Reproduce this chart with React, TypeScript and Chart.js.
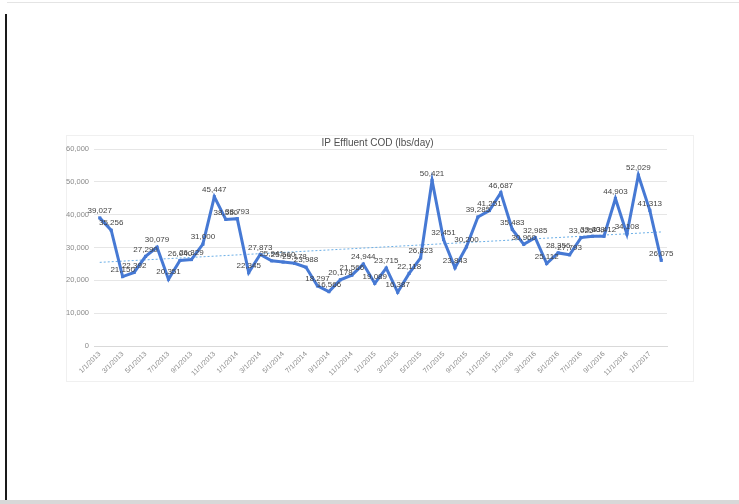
import React, { useEffect, useRef } from "react";
import { Chart, registerables } from "chart.js";

Chart.register(...registerables);

const categories = [
  "1/1/2013", "2/1/2013", "3/1/2013", "4/1/2013", "5/1/2013", "6/1/2013",
  "7/1/2013", "8/1/2013", "9/1/2013", "10/1/2013", "11/1/2013", "12/1/2013",
  "1/1/2014", "2/1/2014", "3/1/2014", "4/1/2014", "5/1/2014", "6/1/2014",
  "7/1/2014", "8/1/2014", "9/1/2014", "10/1/2014", "11/1/2014", "12/1/2014",
  "1/1/2015", "2/1/2015", "3/1/2015", "4/1/2015", "5/1/2015", "6/1/2015",
  "7/1/2015", "8/1/2015", "9/1/2015", "10/1/2015", "11/1/2015", "12/1/2015",
  "1/1/2016", "2/1/2016", "3/1/2016", "4/1/2016", "5/1/2016", "6/1/2016",
  "7/1/2016", "8/1/2016", "9/1/2016", "10/1/2016", "11/1/2016", "12/1/2016",
  "1/1/2017", "2/1/2017",
];

const codValues = [
  39027, 35256, 21150, 22392, 27290, 30079, 20351, 26040, 26329, 31000,
  45447, 38550, 38793, 22345, 27873, 25941, 25560, 25178, 23988, 18297,
  16566, 20178, 21566, 24944, 19089, 23715, 16387, 22118, 26823, 50421,
  32451, 23843, 30200, 39285, 41251, 46687, 35483, 30960, 32985, 25112,
  28356, 27793, 33025, 33408, 33412, 44903, 34108, 52029, 41313, 26075,
];

const yTicks = [0, 10000, 20000, 30000, 40000, 50000, 60000];
const chartTitle = "IP Effluent COD (lbs/day)";

const fmt = (v: number) => v.toLocaleString("en-US");

function trendValues(vals: number[]): number[] {
  const n = vals.length;
  let sx = 0, sy = 0, sxx = 0, sxy = 0;
  vals.forEach((v, i) => {
    const x = i + 1;
    sx += x; sy += v; sxx += x * x; sxy += x * v;
  });
  const b = (n * sxy - sx * sy) / (n * sxx - sx * sx);
  const a = (sy - b * sx) / n;
  return vals.map((_, i) => a + b * (i + 1));
}

const FONT = "'Liberation Sans', Arial, sans-serif";

const valueLabelPlugin = {
  id: "valueLabels",
  afterDatasetsDraw(chart: any) {
    const meta = chart.getDatasetMeta(0);
    const ctx = chart.ctx;
    ctx.save();
    ctx.font = `8px ${FONT}`;
    ctx.fillStyle = "#444444";
    ctx.textAlign = "center";
    ctx.textBaseline = "bottom";
    meta.data.forEach((pt: any, i: number) => {
      ctx.fillText(fmt(codValues[i]), pt.x, pt.y - 3);
    });
    ctx.restore();
  },
};

const titlePlugin = {
  id: "ownTitle",
  afterDraw(chart: any) {
    const { ctx, chartArea } = chart;
    ctx.save();
    ctx.font = `10px ${FONT}`;
    ctx.fillStyle = "#505050";
    ctx.textAlign = "center";
    ctx.textBaseline = "bottom";
    ctx.fillText(chartTitle, (chartArea.left + chartArea.right) / 2 - 3, chartArea.top - 1);
    ctx.restore();
  },
};

export default function App() {
  const ref = useRef<HTMLCanvasElement | null>(null);

  useEffect(() => {
    if (!ref.current) return;
    const chart = new Chart(ref.current, {
      type: "line",
      data: {
        labels: categories,
        datasets: [
          {
            label: "COD",
            data: codValues,
            borderColor: "#4679d4",
            backgroundColor: "#4679d4",
            borderWidth: 3,
            pointStyle: "rect",
            pointRadius: 2.2,
            pointBorderWidth: 0,
            tension: 0,
          },
          {
            label: "Trend",
            data: trendValues(codValues),
            borderColor: "#6aaee6",
            borderWidth: 1,
            borderDash: [2, 2],
            pointRadius: 0,
            tension: 0,
          },
        ],
      },
      options: {
        responsive: false,
        animation: false,
        layout: { padding: { left: 58, right: 72, top: 149, bottom: 120 } },
        plugins: {
          legend: { display: false },
          title: { display: false },
          tooltip: { enabled: false },
        },
        scales: {
          x: {
            offset: true,
            grid: { display: false, drawTicks: false },
            border: { display: true, color: "#d9d9d9" },
            ticks: {
              autoSkip: false,
              minRotation: 45,
              maxRotation: 45,
              padding: 4,
              color: "#8a8a8a",
              font: { size: 7, family: FONT },
              callback: (_v: any, i: number) => (i % 2 === 0 ? categories[i] : ""),
            },
            afterFit: (scale: any) => {
              scale.height = 38;
            },
          },
          y: {
            min: 0,
            max: 60000,
            grid: { color: "#e6e6e6", drawTicks: false },
            border: { display: false },
            afterBuildTicks: (scale: any) => {
              scale.ticks = yTicks.map((v) => ({ value: v }));
            },
            ticks: {
              padding: 5,
              color: "#8a8a8a",
              font: { size: 7.5, family: FONT },
              callback: (v: any) => fmt(Number(v)),
            },
            afterFit: (scale: any) => {
              scale.width = 36;
            },
          },
        },
      },
      plugins: [valueLabelPlugin, titlePlugin],
    });
    return () => chart.destroy();
  }, []);

  return (
    <div style={{ position: "absolute", left: 0, top: 0, width: 739, height: 504, background: "#ffffff", overflow: "hidden" }}>
      <div style={{ position: "absolute", left: 5, top: 14, width: 2, height: 486, background: "#1a1a1a" }} />
      <div style={{ position: "absolute", left: 7, top: 2, width: 732, height: 1, background: "#e4e4e4" }} />
      <div style={{ position: "absolute", left: 0, top: 500, width: 739, height: 4, background: "#d8d8d8" }} />
      <div style={{ position: "absolute", left: 66, top: 135, width: 626, height: 245, border: "1px solid #f0f0f0" }} />
      <canvas ref={ref} width={739} height={504} style={{ position: "absolute", left: 0, top: 0 }} />
    </div>
  );
}
